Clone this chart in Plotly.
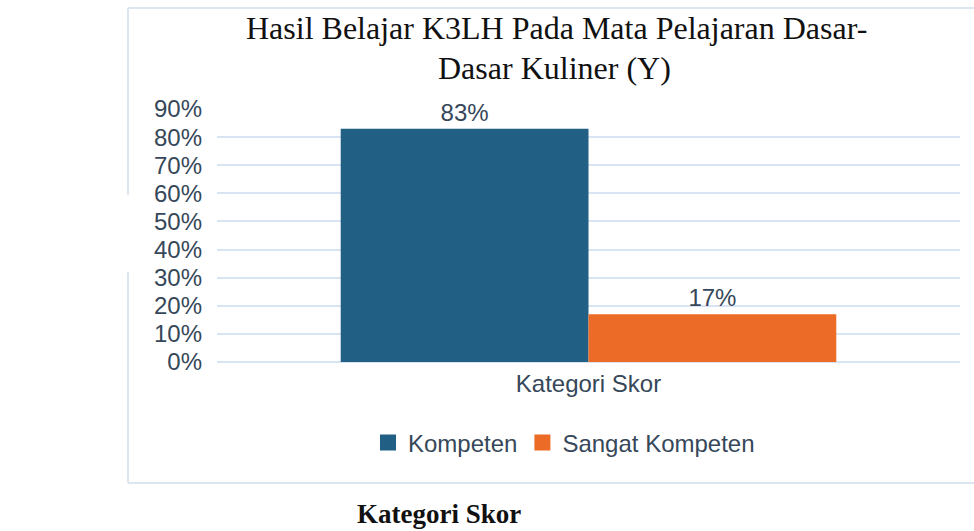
import plotly.graph_objects as go

categories = ["Kategori Skor"]
series_names = ["Kompeten", "Sangat Kompeten"]
kompeten = [0.83]
sangat_kompeten = [0.17]
series_values = [kompeten, sangat_kompeten]
colors = ["#225f84", "#eb6b27"]
tick_vals = [0, 0.1, 0.2, 0.3, 0.4, 0.5, 0.6, 0.7, 0.8, 0.9]

W, H = 974, 531
L, R, T, B = 217, 14, 109, 169
pw, ph = W - L - R, H - T - B

def px(x):
    return (x - L) / pw

def py(y):
    return (H - B - y) / ph

text_col = "#36475a"
font_sans = "Liberation Sans, Arial, sans-serif"
font_serif = "Liberation Serif, Times New Roman, serif"
FS = 24

fig = go.Figure()
for name, vals, col in zip(series_names, series_values, colors):
    fig.add_trace(go.Bar(
        x=categories, y=vals, name=name,
        marker=dict(color=col, line=dict(width=0)),
        texttemplate="%{y:.0%}", textposition="outside",
        textfont=dict(family=font_sans, size=FS, color=text_col),
        cliponaxis=False, showlegend=False,
    ))
    fig.add_trace(go.Scatter(
        x=[None], y=[None], mode="markers", name=name,
        marker=dict(symbol="square", size=19, color=col),
        showlegend=True,
    ))

grid_col = "#d8e3f3"
fig.update_layout(
    width=W, height=H,
    margin=dict(l=L, r=R, t=T, b=B),
    paper_bgcolor="white", plot_bgcolor="white",
    barmode="group", bargap=0.333, bargroupgap=0,
    showlegend=True,
    legend=dict(orientation="h", x=px(564), xanchor="center",
                y=py(443), yanchor="middle",
                font=dict(family=font_sans, size=FS, color=text_col),
                itemwidth=30, bgcolor="rgba(0,0,0,0)"),
    xaxis=dict(showgrid=False, showline=False, zeroline=False, ticks="",
               tickfont=dict(family=font_sans, size=FS, color=text_col),
               ticklabelstandoff=5),
    yaxis=dict(range=[0, 0.9], tickvals=tick_vals, tickformat=".0%",
               showgrid=True, gridcolor=grid_col, gridwidth=2,
               zeroline=True, zerolinecolor=grid_col, zerolinewidth=2,
               showline=False, ticks="",
               tickfont=dict(family=font_sans, size=FS, color=text_col),
               ticklabelstandoff=14),
)

fig.add_annotation(
    text="Hasil Belajar K3LH Pada Mata Pelajaran Dasar-",
    xref="paper", yref="paper", x=px(556), y=py(28), xanchor="center", yanchor="middle",
    showarrow=False, font=dict(family=font_serif, size=32, color="#111111"),
)
fig.add_annotation(
    text="Dasar Kuliner (Y)",
    xref="paper", yref="paper", x=px(554), y=py(68), xanchor="center", yanchor="middle",
    showarrow=False, font=dict(family=font_serif, size=32, color="#111111"),
)
fig.add_annotation(
    text="<b>Kategori Skor</b>",
    xref="paper", yref="paper", x=px(439), y=py(530), xanchor="center", yanchor="bottom",
    showarrow=False, borderpad=0, font=dict(family=font_serif, size=27, color="#111111"),
)

bcol = "#dce6f2"
# chart frame (right edge beyond the window)
fig.add_shape(type="line", xref="paper", yref="paper", x0=px(128), x1=px(990), y0=py(8), y1=py(8),
              line=dict(color=bcol, width=2), layer="below")
fig.add_shape(type="line", xref="paper", yref="paper", x0=px(128), x1=px(990), y0=py(483), y1=py(483),
              line=dict(color=bcol, width=2), layer="below")
fig.add_shape(type="line", xref="paper", yref="paper", x0=px(128), x1=px(128), y0=py(8), y1=py(195),
              line=dict(color=bcol, width=2), layer="below")
fig.add_shape(type="line", xref="paper", yref="paper", x0=px(128), x1=px(128), y0=py(272), y1=py(483),
              line=dict(color=bcol, width=2), layer="below")

fig.write_html("out.html")
